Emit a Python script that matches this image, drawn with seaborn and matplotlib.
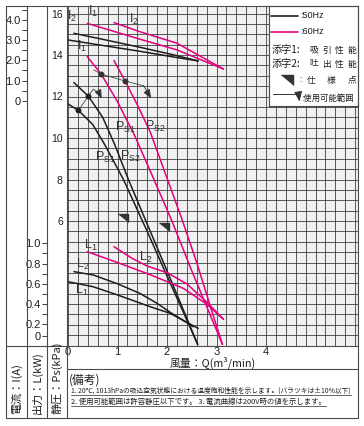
import numpy as np
import matplotlib
matplotlib.use('Agg')
import matplotlib.pyplot as plt
from matplotlib.lines import Line2D
from matplotlib import font_manager
import seaborn as sns

# ---- curves: air flow Q (m3/min) ----
# static pressure Ps (kPa), 50Hz
q_ps1_50 = [0, 0.21, 0.5, 0.75, 1.12, 1.6, 2.0, 2.35, 2.62]
ps1_50 = [11.64, 11.33, 10.65, 9.65, 8.0, 5.5, 3.35, 1.5, 0.05]
q_ps2_50 = [0.12, 0.41, 0.7, 0.95, 1.22, 1.6, 2.0, 2.35, 2.62]
ps2_50 = [12.67, 12.02, 11.0, 9.65, 8.0, 5.85, 3.6, 1.6, 0.05]
# static pressure Ps (kPa), 60Hz
q_ps1_60 = [0.39, 0.67, 1.0, 1.35, 1.7, 2.1, 2.5, 2.85, 3.12]
ps1_60 = [13.92, 13.08, 11.75, 10.1, 8.2, 6.0, 3.6, 1.6, 0.05]
q_ps2_60 = [0.93, 1.15, 1.4, 1.66, 1.98, 2.3, 2.6, 2.9, 3.12]
ps2_60 = [13.73, 12.76, 11.6, 10.3, 8.2, 6.1, 4.0, 1.7, 0.05]

# current I (A)
q_i1_50 = [0, 0.8, 1.45, 2.1, 2.63]
i1_50 = [3.01, 2.7, 2.45, 2.18, 1.97]
q_i2_50 = [0.12, 0.8, 1.45, 2.1, 2.63]
i2_50 = [3.34, 2.99, 2.65, 2.29, 1.97]
q_i1_60 = [0.39, 1.45, 2.2, 3.14]
i1_60 = [3.83, 3.05, 2.52, 1.57]
q_i2_60 = [0.93, 1.45, 2.2, 3.14]
i2_60 = [3.87, 3.42, 2.85, 1.57]

# output L (kW)
q_l1_50 = [0, 0.5, 1.0, 1.66, 2.06, 2.63]
l1_50 = [0.621, 0.572, 0.49, 0.374, 0.309, 0.16]
q_l2_50 = [0.12, 0.51, 1.0, 1.45, 1.79, 2.06, 2.53]
l2_50 = [0.72, 0.687, 0.6, 0.506, 0.41, 0.32, 0.176]
q_l1_60 = [0.39, 1.0, 1.66, 2.33, 2.8, 3.14]
l1_60 = [0.917, 0.81, 0.69, 0.555, 0.40, 0.25]
q_l2_60 = [0.93, 1.3, 1.6, 2.0, 2.4, 2.8, 3.14]
l2_60 = [0.966, 0.85, 0.775, 0.71, 0.6, 0.42, 0.25]

# spec points, usable-range marks
spec_q = [1.12, 1.93]
spec_ps = [6.16, 5.69]
dots_50_q = [0.21, 0.41]
dots_50_ps = [11.33, 12.02]
dots_60_q = [0.67, 1.15]
dots_60_ps = [13.08, 12.76]
range_50_q = [0.21, 0.41, 0.51, 0.63, 0.68]
range_50_ps = [11.33, 12.02, 12.35, 12.16, 11.9]
range_60_q = [0.52, 0.67, 1.15, 1.53, 1.68]
range_60_ps = [13.28, 13.08, 12.75, 12.51, 11.91]

q_ticks = [0, 1, 2, 3, 4]
ps_ticks = [6, 8, 10, 12, 14, 16]
i_ticks = [0, 1, 2, 3, 4]
i_labels = ['0', '1.0', '2.0', '3.0', '4.0']
l_ticks = [0.2, 0.4, 0.6, 0.8, 1.0]
l_labels = ['0.2', '0.4', '0.6', '0.8', '1.0']

note1 = '1. 20℃, 1013hPaの吸込空気状態における温度飽和性能を示します。(バラツキは±10%以下)'
note2 = '2. 使用可能範囲は許容静圧以下です。 3. 電流曲線は200V時の値を示します。'

# ---- layout (pixels of the 364x426 picture) ----
W, H = 364, 426
GL, GR, GT, GB = 67, 358, 6, 345.5
Q_PX0, Q_SCALE = 68, 49.5
PS_SCALE = 20.75
I_PX0, I_SCALE = 100.7, 20.18
L_PX02, L_SCALE = 324.3, 101.25
L_ZERO = 0.2 - (336 - L_PX02) / L_SCALE

xlim = ((GL - Q_PX0) / Q_SCALE, (GR - Q_PX0) / Q_SCALE)
ps_lim = (0, (GB - GT) / PS_SCALE)
i_lim = ((I_PX0 - GB) / I_SCALE, (I_PX0 - GT) / I_SCALE)
l_lim = (0.2 + (L_PX02 - GB) / L_SCALE, 0.2 + (L_PX02 - GT) / L_SCALE)

PINK = '#e4007f'
INK = '#1e1e1e'
FRAME = '#4a4a4a'
GRIDC = '#3e3e3e'

sns.set_theme(style='white')
names = {f.name for f in font_manager.fontManager.ttflist}
NUM = 'Liberation Sans Narrow' if 'Liberation Sans Narrow' in names else 'Liberation Sans'
plt.rcParams['font.family'] = ['Noto Sans CJK JP', 'DejaVu Sans']
plt.rcParams['mathtext.fontset'] = 'custom'
plt.rcParams['mathtext.rm'] = NUM


def rect(x0, y0, x1, y1):
    return [x0 / W, 1 - y1 / H, (x1 - x0) / W, (y1 - y0) / H]


fig = plt.figure(figsize=(W / 100, H / 100), dpi=100)
fig.patch.set_facecolor('white')

ax = fig.add_axes(rect(GL, GT, GR, GB))
ax.set_facecolor('#f0f0f0')
ax.set_xlim(xlim)
ax.set_ylim(ps_lim)
ax.set_xticks(q_ticks)
ax.set_xticks(np.arange(0, 5.81, 0.2), minor=True)
ax.set_yticks(ps_ticks)
ax.set_yticks(np.arange(0, 16.01, 0.5), minor=True)
ax.grid(which='both', color=GRIDC, lw=0.6)
ax.set_axisbelow(True)
ax.tick_params(which='both', length=0)
ax.tick_params(axis='x', pad=1, labelsize=8, labelcolor=INK)
ax.tick_params(axis='y', pad=3, labelsize=7.5, labelcolor=INK)
for lab in ax.get_xticklabels() + ax.get_yticklabels():
    lab.set_fontfamily(NUM)
for s in ax.spines.values():
    s.set_visible(False)

ax_i = ax.twinx()
ax_i.set_ylim(i_lim)
ax_i.set_axis_off()
ax_l = ax.twinx()
ax_l.set_ylim(l_lim)
ax_l.set_axis_off()

curves = [
    (ax, q_ps1_50, ps1_50, INK), (ax, q_ps2_50, ps2_50, INK),
    (ax, q_ps1_60, ps1_60, PINK), (ax, q_ps2_60, ps2_60, PINK),
    (ax_i, q_i1_50, i1_50, INK), (ax_i, q_i2_50, i2_50, INK),
    (ax_i, q_i1_60, i1_60, PINK), (ax_i, q_i2_60, i2_60, PINK),
    (ax_l, q_l1_50, l1_50, INK), (ax_l, q_l2_50, l2_50, INK),
    (ax_l, q_l1_60, l1_60, PINK), (ax_l, q_l2_60, l2_60, PINK),
]
for a, q, v, c in curves:
    sns.lineplot(x=q, y=v, ax=a, color=c, lw=1.1, errorbar=None)
ax_i.set_ylim(i_lim)
ax_l.set_ylim(l_lim)
ax.set_xlim(xlim)

# usable range marks
for rq, rp in [(range_50_q, range_50_ps), (range_60_q, range_60_ps)]:
    ax.plot(rq[:-1], rp[:-1], color='#444444', lw=0.6, zorder=3)
    ax.annotate('', xy=(rq[-1], rp[-1]), xytext=(rq[-2], rp[-2]),
                arrowprops=dict(arrowstyle='-|>,head_length=0.45,head_width=0.18',
                                color='#333333', lw=0.6, shrinkA=0, shrinkB=0))
ax.plot(dots_50_q, dots_50_ps, 'o', color=INK, ms=3.2, zorder=4)
ax.plot(dots_60_q, dots_60_ps, 'o', color='#333333', ms=3.2, zorder=4)

tri = [(-1, 0.8), (1, 0.8), (1, -0.8)]
ax.plot(spec_q, spec_ps, ls='none', marker=tri, ms=7.5, color='#333333', zorder=4)

labels = [
    (r'$\mathrm{I_2}$', 0.075, 15.85), (r'$\mathrm{I_1}$', 0.28, 14.4),
    (r'$\mathrm{I_1}$', 0.515, 16.09), (r'$\mathrm{I_2}$', 1.33, 15.69),
    (r'$\mathrm{P_{S1}}$', 1.15, 10.53), (r'$\mathrm{P_{S2}}$', 1.76, 10.58),
    (r'$\mathrm{P_{S1}}$', 0.76, 9.06), (r'$\mathrm{P_{S2}}$', 1.25, 9.11),
    (r'$\mathrm{L_1}$', 0.47, 4.8), (r'$\mathrm{L_2}$', 1.58, 4.24),
    (r'$\mathrm{L_2}$', 0.29, 3.93), (r'$\mathrm{L_1}$', 0.27, 2.65),
]
for txt, x, y in labels:
    ax.text(x, y, txt, fontsize=9, color='#333333', ha='center', va='center', zorder=5)

# tick columns for current and output
for x0, lim, ticks, labs, minor in [
        (27, i_lim, i_ticks, i_labels, np.arange(0.5, 4.6, 1.0)),
        (47, l_lim, [L_ZERO] + l_ticks, ['0'] + l_labels, np.arange(0.3, 1.0, 0.2))]:
    c = fig.add_axes(rect(x0, GT, x0 + 20, GB))
    c.patch.set_visible(False)
    c.set_ylim(lim)
    c.set_xticks([])
    c.set_yticks(ticks)
    c.set_yticklabels(labs)
    c.set_yticks(minor, minor=True)
    c.tick_params(axis='y', which='both', direction='out', left=True, length=3.4,
                  width=0.6, color=INK, pad=1.2, labelsize=8, labelcolor=INK)
    for lab in c.get_yticklabels():
        lab.set_fontfamily(NUM)
    for s in c.spines.values():
        s.set_visible(False)


def line(x0, y0, x1, y1, lw=0.8):
    fig.add_artist(Line2D([x0 / W, x1 / W], [1 - y0 / H, 1 - y1 / H], color=FRAME, lw=lw))


line(6, 6, 358, 6)
line(6, 418, 358, 418)
line(6, 6, 6, 418)
line(358, 6, 358, 418)
for xv in [27, 47, GL]:
    line(xv, 6, xv, 418)
line(6, GB, 358, GB)
line(GL, 369, 358, 369)

for xc, txt in [(17, '電流：I(A)'), (37, '出力：L(kW)'), (57, '静圧：Ps(kPa)')]:
    fig.text(xc / W, 1 - 414 / H, txt, rotation=90, ha='center', va='bottom',
             fontsize=8, color=INK)

fig.text(212.5 / W, 1 - 362.5 / H, '風量：Q(m³/min)', ha='center', va='center',
         fontsize=7.8, color=INK)
fig.text(69 / W, 1 - 380 / H, '(備考)', ha='left', va='center', fontsize=8.5, color=INK)
n1 = fig.text(71 / W, 1 - 390.5 / H, note1, ha='left', va='center', fontsize=5, color=INK)
n2 = fig.text(71 / W, 1 - 401.5 / H, note2, ha='left', va='center', fontsize=5, color=INK)

# legend box
lg = fig.add_axes(rect(269, 6, 358, 106))
lg.set_facecolor('white')
lg.set_xlim(269, 358)
lg.set_ylim(106, 6)
lg.set_xticks([])
lg.set_yticks([])
for s in lg.spines.values():
    s.set_color(FRAME)
    s.set_linewidth(0.8)
lg.plot([271, 298], [15.7, 15.7], color=INK, lw=1.2)
lg.plot([271, 298], [31.7, 31.7], color=PINK, lw=1.2)
lg.text(300, 15.7, ':50Hz', fontsize=6.5, family=NUM, va='center', color=INK)
lg.text(300, 31.7, ':60Hz', fontsize=6.5, family=NUM, va='center', color=INK)
for yv, head, chars in [(50.3, '添字1:', '吸引性能'), (64, '添字2:', '吐出性能')]:
    lg.text(271.5, yv, head, fontsize=7.3, va='center', color=INK)
    for xc, ch in zip([313.7, 326.7, 339.3, 352.4], chars):
        lg.text(xc, yv, ch, fontsize=6.3, ha='center', va='center', color=INK)
lg.plot([286.7], [80.2], ls='none', marker=tri, ms=9, color='#333333')
lg.text(299.5, 80, ':', fontsize=6.5, va='center', color=INK)
for xc, ch in zip([310.8, 331.5, 352.4], '仕様点'):
    lg.text(xc, 80, ch, fontsize=6.3, ha='center', va='center', color=INK)
lg.plot([273, 298.5], [94.3, 94.3], color='#333333', lw=0.7)
lg.annotate('', xy=(299.5, 101.5), xytext=(298.5, 94.3),
            arrowprops=dict(arrowstyle='-|>,head_length=0.5,head_width=0.2',
                            color='#333333', lw=0.7, shrinkA=0, shrinkB=0))
lg.text(301.5, 98.5, ':使用可能範囲', fontsize=6, va='center', color=INK)

# fit the note lines to their widths and underline them
fig.canvas.draw()
r = fig.canvas.get_renderer()
for t, target in [(n1, 281), (n2, 256)]:
    w = t.get_window_extent(r).width
    t.set_fontsize(t.get_fontsize() * target / w)
fig.canvas.draw()
for t, yu in [(n1, 394.8), (n2, 406)]:
    bb = t.get_window_extent(r)
    line(bb.x0, yu, bb.x1, yu, lw=0.6)

fig.savefig('out.png', dpi=100)
